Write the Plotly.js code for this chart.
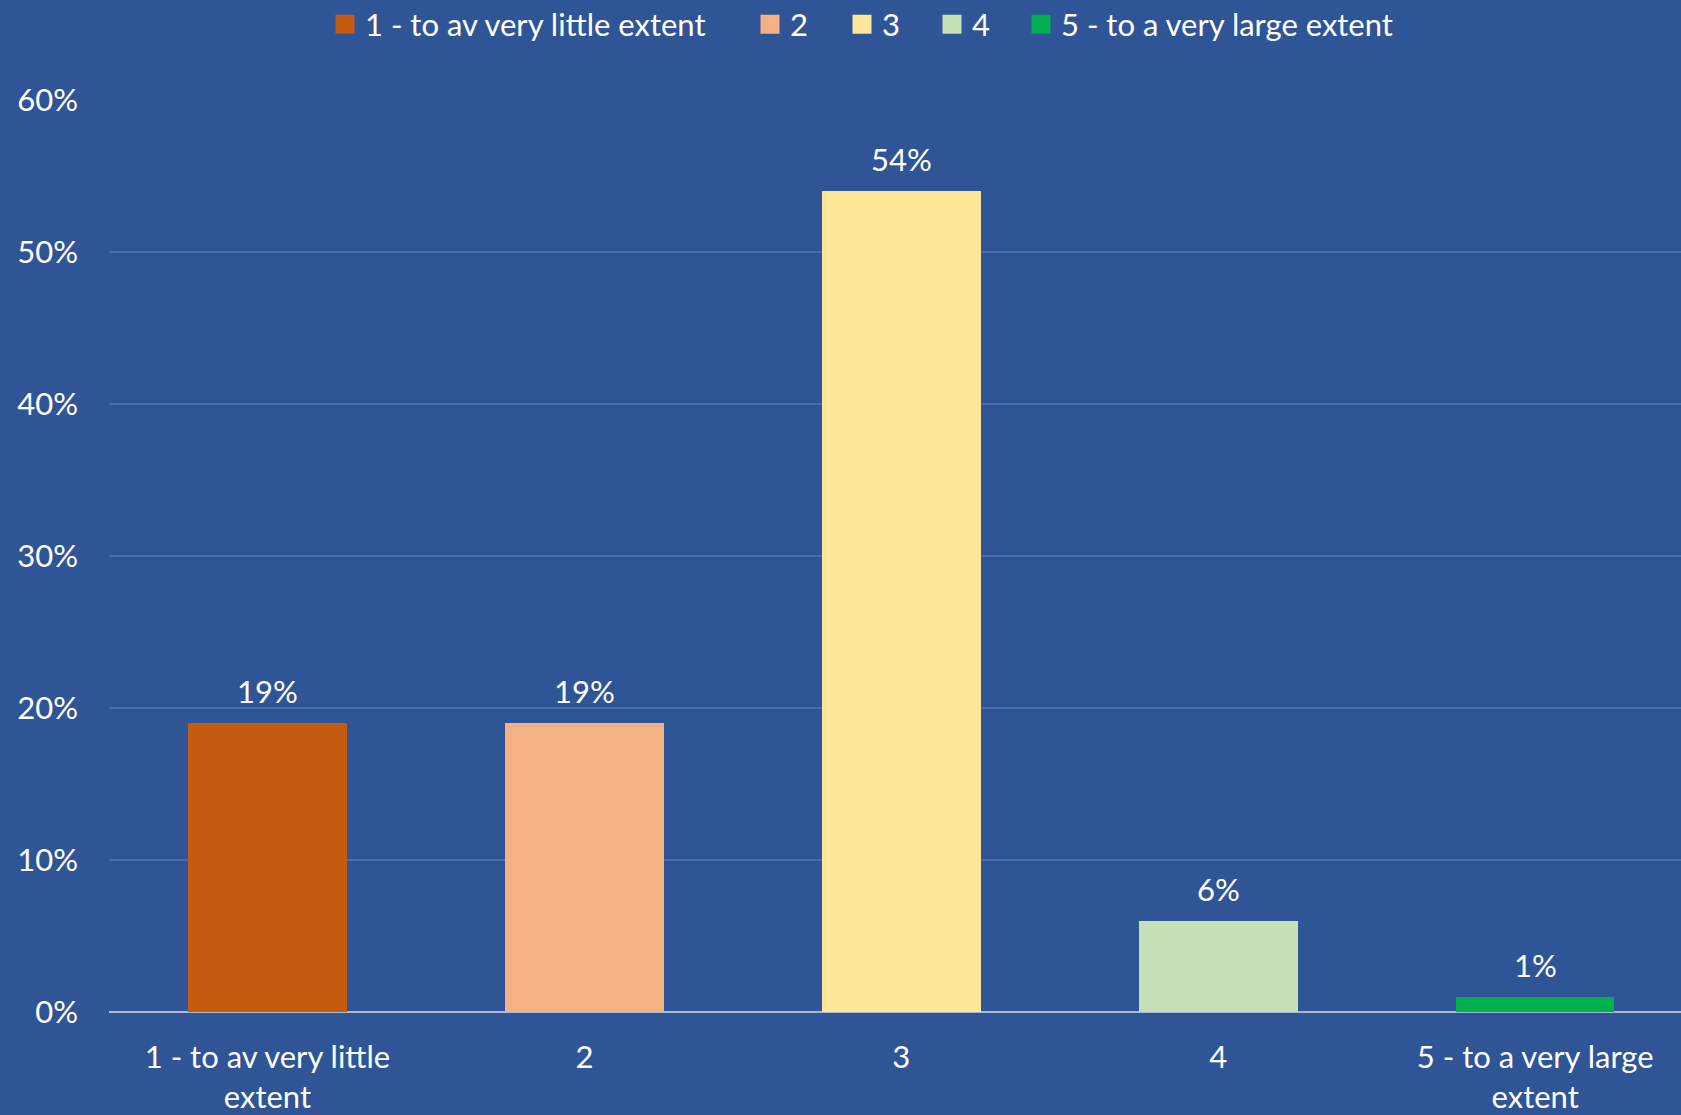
<!DOCTYPE html>
<html>
<head>
<meta charset="utf-8">
<script src="https://cdn.plot.ly/plotly-3.0.1.min.js"></script>
<style>html,body{margin:0;padding:0;background:#2F5597;}#chart{width:1681px;height:1115px;}</style>
</head>
<body>
<div id="chart"></div>
<script>
const categories = ["1 - to av very little extent", "2", "3", "4", "5 - to a very large extent"];
const tickLabels = ["1 - to av very little<br>extent", "2", "3", "4", "5 - to a very large<br>extent"];
const values = [19, 19, 54, 6, 1];
const colors = ["#C55A11", "#F4B183", "#FFE699", "#C5E0B4", "#00B050"];
const yTicks = [0, 10, 20, 30, 40, 50, 60];
const yTickLabels = ["0%", "10%", "20%", "30%", "40%", "50%", "60%"];

const font = "Lato, 'Open Sans', sans-serif";
const FS = 31;

const bars = categories.map((c, i) => ({
  type: "bar",
  name: c,
  x: [c],
  y: [values[i]],
  marker: {color: colors[i], line: {width: 0}},
  showlegend: false,
  hoverinfo: "none"
}));
// legend entries (square swatches), one legend box per category
const legendIds = ["legend", "legend2", "legend3", "legend4", "legend5"];
const legendItems = categories.map((c, i) => ({
  type: "scatter",
  mode: "markers",
  name: c,
  legend: legendIds[i],
  x: [null],
  y: [null],
  marker: {symbol: "square", size: 16, color: colors[i], line: {color: colors[i], width: 3}},
  showlegend: true,
  hoverinfo: "none"
}));

const annotations = categories.map((c, i) => ({
  x: i, y: values[i], xref: "x", yref: "y",
  text: values[i] + "%", showarrow: false,
  yanchor: "bottom", yshift: 11,
  font: {color: "#FFFFFF", size: FS, family: font}
}));

const legendLeft = [325, 750, 842, 932, 1021];
const layout = {
  width: 1681, height: 1115,
  paper_bgcolor: "#2F5597", plot_bgcolor: "#2F5597",
  font: {family: font, color: "#FFFFFF", size: FS},
  barmode: "stack",
  bargap: 0.5,
  margin: {l: 109, r: 0, t: 100, b: 103},
  showlegend: true,
  annotations: annotations,
  xaxis: {
    type: "category", categoryorder: "array", categoryarray: categories,
    tickmode: "array", tickvals: categories, ticktext: tickLabels,
    range: [-0.5, 4.46], showgrid: false, showline: false, zeroline: false,
    ticks: "", tickfont: {size: FS, color: "#FFFFFF", family: font}, ticklabelstandoff: 24
  },
  yaxis: {
    range: [0, 60], tickmode: "array", tickvals: yTicks, ticktext: yTickLabels,
    showgrid: true, gridcolor: "#4A6DAB", gridwidth: 2,
    zeroline: true, zerolinecolor: "#A9B8D3", zerolinewidth: 2,
    showline: false, ticks: "", ticklabelstandoff: 30,
    tickfont: {size: FS, color: "#FFFFFF", family: font}
  }
};
legendIds.forEach((id, i) => {
  layout[id] = {orientation: "h", xref: "container", x: legendLeft[i] / 1681, xanchor: "left",
    yref: "container", y: 0.978, yanchor: "middle",
    font: {size: FS, color: "#FFFFFF", family: font},
    itemwidth: 30, itemsizing: "trace", bgcolor: "rgba(0,0,0,0)"};
});
Plotly.newPlot("chart", bars.concat(legendItems), layout, {displayModeBar: false, staticPlot: true});
</script>
</body>
</html>
